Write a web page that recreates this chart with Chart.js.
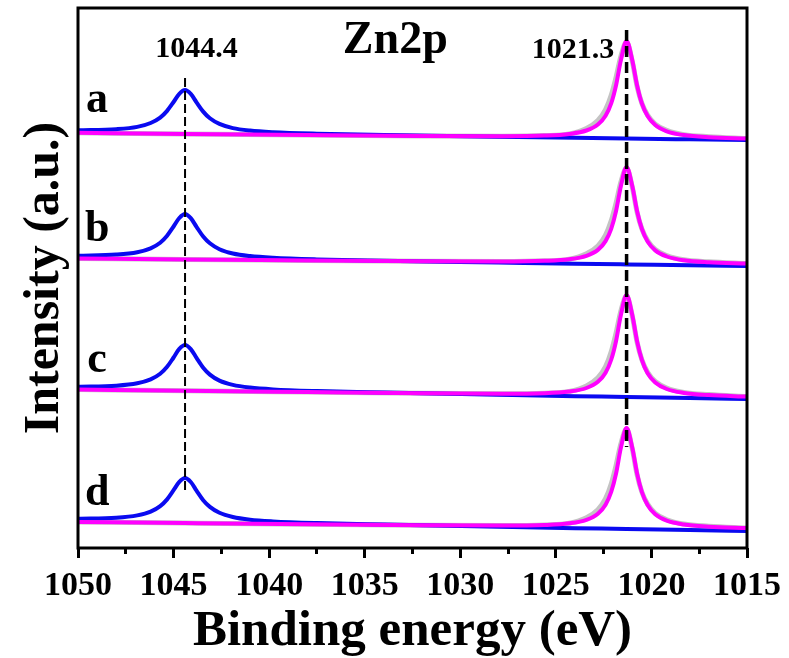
<!DOCTYPE html>
<html>
<head>
<meta charset="utf-8">
<script src="https://cdn.jsdelivr.net/npm/chart.js@4.4.0/dist/chart.umd.min.js"></script>
<style>
  html, body { margin: 0; padding: 0; background: #fff; }
</style>
</head>
<body>
<canvas id="xps" width="789" height="658"></canvas>
<script>
"use strict";

const SERIF = "'Times New Roman', 'Liberation Serif', serif";

// binding energy grids (eV) used by the two fitted components
const blueEnergy = [1050, 1048, 1046.9, 1046.2, 1045.7, 1045.35, 1045.0, 1044.7, 1044.4, 1044.1, 1043.8, 1043.45,
  1043.1, 1042.6, 1041.9, 1041.0, 1039.8, 1037.5, 1034, 1028, 1024, 1021.3, 1018, 1015];
const pinkEnergy = [1050, 1044.4, 1038, 1032, 1027.8, 1025.6, 1024.3, 1023.4, 1022.8, 1022.4, 1022.1, 1021.85,
  1021.6, 1021.3, 1021.0, 1020.75, 1020.5, 1020.2, 1019.8, 1019.2, 1018.3, 1017, 1015];

// Zn 2p1/2 component (blue), offset spectra a-d (a.u.)
const blueA = [417.7, 418.8, 421.1, 425.0, 430.4, 436.9, 446.0, 454.2, 458.0, 454.1, 445.7, 436.4,
  429.7, 424.1, 419.9, 417.4, 415.8, 414.3, 413.0, 411.3, 410.2, 409.5, 408.7, 408.0];
const blueB = [292.2, 293.4, 295.8, 299.7, 305.3, 312.0, 321.5, 330.0, 334.0, 329.8, 321.2, 311.5,
  304.7, 298.8, 294.5, 291.9, 290.2, 288.6, 287.3, 285.5, 284.3, 283.6, 282.8, 282.0];
const blueC = [161.3, 162.3, 164.7, 168.6, 174.2, 180.9, 190.5, 199.1, 203.0, 198.9, 190.1, 180.3,
  173.4, 167.4, 163.1, 160.4, 158.6, 156.9, 155.4, 153.2, 151.8, 151.0, 149.9, 149.0];
const blueD = [29.2, 30.2, 32.6, 36.4, 41.9, 48.4, 57.8, 66.1, 70.0, 66.0, 57.4, 47.8,
  41.1, 35.2, 31.0, 28.3, 26.6, 24.9, 23.4, 21.2, 19.8, 19.0, 17.9, 17.0];

// Zn 2p3/2 component (magenta)
const pinkA = [415.2, 414.1, 413.0, 412.1, 411.8, 412.4, 414.1, 417.5, 423.5, 432.3, 444.9, 462.7,
  487.6, 507.0, 487.5, 462.5, 444.6, 431.9, 422.9, 416.7, 412.9, 410.8, 409.5];
const pinkB = [289.5, 288.5, 287.6, 286.7, 286.5, 287.2, 288.8, 292.2, 298.1, 306.9, 319.4, 337.0,
  361.8, 381.0, 361.7, 336.8, 319.1, 306.5, 297.6, 291.5, 287.7, 285.7, 284.4];
const pinkC = [158.5, 157.2, 155.9, 154.7, 154.3, 154.8, 156.5, 160.0, 166.2, 175.3, 188.5, 207.0,
  232.9, 253.0, 232.8, 206.7, 188.2, 174.8, 165.6, 159.0, 155.1, 152.9, 151.4];
const pinkD = [26.0, 24.9, 23.7, 22.7, 22.4, 23.0, 24.7, 28.2, 34.3, 43.3, 56.3, 74.5,
  100.1, 120.0, 100.0, 74.3, 56.0, 42.9, 33.7, 27.3, 23.5, 21.3, 19.9];

// measured envelope (grey), on the magenta grid
const grayA = [415.2, 414.1, 413.0, 412.1, 411.8, 412.4, 414.1, 419.5, 427.5, 438.3, 452.9, 470.7,
  491.6, 506.0, 486.5, 461.5, 444.6, 432.9, 423.9, 417.7, 413.4, 411.3, 409.5];
const grayB = [289.5, 288.5, 287.6, 286.7, 286.5, 287.2, 288.8, 294.2, 302.1, 312.9, 327.4, 345.0,
  365.8, 380.0, 360.7, 335.8, 319.1, 307.5, 298.6, 292.5, 288.2, 286.2, 284.4];
const grayC = [158.5, 157.2, 155.9, 154.7, 154.3, 154.8, 156.5, 162.0, 170.2, 181.3, 196.5, 215.0,
  236.9, 252.0, 231.8, 205.7, 188.2, 175.8, 166.6, 160.0, 155.6, 153.4, 151.4];
const grayD = [26.0, 24.9, 23.7, 22.7, 22.4, 23.0, 24.7, 30.2, 38.3, 49.3, 64.3, 82.5,
  104.1, 119.0, 99.0, 73.3, 56.0, 43.9, 34.7, 28.3, 24.0, 21.8, 19.9];

const sampleNames = ["a", "b", "c", "d"];
const peakEnergy = [1044.4, 1021.3];
const peakLabels = ["1044.4", "1021.3"];
const xTicks = [1050, 1045, 1040, 1035, 1030, 1025, 1020, 1015];

function pts(xs, ys) {
  return xs.map((x, i) => ({ x: x, y: ys[i] }));
}

function curve(xs, ys, color, width) {
  return {
    data: pts(xs, ys),
    borderColor: color,
    borderWidth: width,
    pointRadius: 0,
    fill: false,
    cubicInterpolationMode: "monotone",
  };
}

function dashed(energy, yTop, yBottom, width, dash) {
  return {
    data: [{ x: energy, y: yTop }, { x: energy, y: yBottom }],
    borderColor: "#000",
    borderWidth: width,
    borderDash: dash,
    pointRadius: 0,
    fill: false,
  };
}

const datasets = [
  dashed(peakEnergy[0], 470, 55, 2, [9, 4]),
  dashed(peakEnergy[1], 518, 101, 3.5, [11, 5]),
];
[pinkA, pinkB, pinkC, pinkD].forEach(s => datasets.push(curve(pinkEnergy, s, "#ff00ff", 4)));
[blueA, blueB, blueC, blueD].forEach(s => datasets.push(curve(blueEnergy, s, "#0a0af0", 4)));
[grayA, grayB, grayC, grayD].forEach(s => datasets.push(curve(pinkEnergy, s, "#c4c4c4", 5)));

const decorations = {
  id: "decorations",
  afterDatasetsDraw(chart) {
    const { ctx, chartArea: a, scales: { x, y } } = chart;
    ctx.save();
    ctx.strokeStyle = "#000";
    ctx.lineWidth = 3;
    ctx.strokeRect(a.left, a.top, a.right - a.left, a.bottom - a.top);

    ctx.fillStyle = "#000";
    ctx.textAlign = "center";
    ctx.textBaseline = "alphabetic";
    ctx.font = "bold 44px " + SERIF;
    const nameLevel = [436, 307, 176, 43];
    sampleNames.forEach((s, i) => ctx.fillText(s, x.getPixelForValue(1049.0), y.getPixelForValue(nameLevel[i])));

    ctx.font = "bold 30px " + SERIF;
    ctx.fillText(peakLabels[0], x.getPixelForValue(1043.8), y.getPixelForValue(491));
    ctx.fillText(peakLabels[1], x.getPixelForValue(1024.1), y.getPixelForValue(490));

    ctx.font = "bold 46px " + SERIF;
    ctx.fillText("Zn2p", x.getPixelForValue(1033.4), y.getPixelForValue(495));
    ctx.restore();
  }
};

new Chart(document.getElementById("xps"), {
  type: "line",
  data: { datasets: datasets },
  options: {
    responsive: false,
    animation: false,
    events: [],
    layout: { padding: { top: 8, right: 39, left: 0, bottom: 0 } },
    plugins: { legend: { display: false }, tooltip: { enabled: false } },
    scales: {
      x: {
        type: "linear",
        position: "bottom",
        weight: 1,
        min: 1015,
        max: 1050,
        reverse: true,
        afterBuildTicks: s => { s.ticks = xTicks.map(v => ({ value: v })); },
        ticks: {
          autoSkip: false,
          maxRotation: 0,
          padding: 8,
          color: "#000",
          font: { family: SERIF, size: 34, weight: "bold" },
          callback: v => String(v),
        },
        grid: { drawOnChartArea: false, drawTicks: true, tickLength: 10, lineWidth: 3, color: "#000" },
        border: { display: false },
        title: {
          display: true,
          text: "Binding energy (eV)",
          color: "#000",
          font: { family: SERIF, size: 51, weight: "bold", lineHeight: 1 },
          padding: { top: 0, bottom: 1 },
        },
        afterFit: s => { s.height = 110; },
      },
      xMinor: {
        type: "linear",
        position: "bottom",
        weight: 0,
        min: 1015,
        max: 1050,
        reverse: true,
        ticks: { display: false, stepSize: 2.5 },
        grid: { drawOnChartArea: false, drawTicks: true, tickLength: 6, lineWidth: 3, color: "#000" },
        border: { display: false },
        afterFit: s => { s.height = 0; },
      },
      y: {
        min: 0,
        max: 540,
        ticks: { display: false },
        grid: { display: false },
        border: { display: false },
        title: {
          display: true,
          text: "Intensity (a.u.)",
          color: "#000",
          font: { family: SERIF, size: 50, weight: "bold", lineHeight: 1 },
          padding: { top: 20, bottom: 0 },
        },
        afterFit: s => { s.width = 78; },
      },
    },
  },
  plugins: [decorations],
});
</script>
</body>
</html>
